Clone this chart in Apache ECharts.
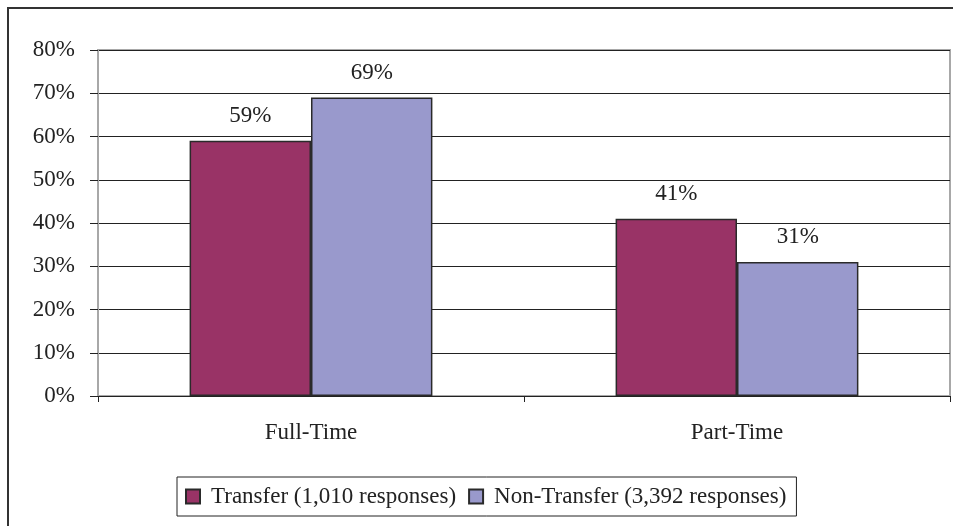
<!DOCTYPE html>
<html>
<head>
<meta charset="utf-8">
<script src="https://cdn.jsdelivr.net/npm/echarts@6/dist/echarts.min.js"></script>
<style>
  html, body { margin: 0; padding: 0; background: #fff; }
  #main { width: 953px; height: 526px; }
</style>
</head>
<body>
<div id="main"></div>
<script>
const categories = ['Full-Time', 'Part-Time']
const transferValues = [59, 41]
const nonTransferValues = [69, 31]
const seriesNames = ['Transfer (1,010 responses)', 'Non-Transfer (3,392 responses)']

const font = '"Liberation Serif", "Times New Roman", serif'
const chart = echarts.init(document.getElementById('main'))

const labelStyle = {
  show: true,
  position: 'top',
  distance: 13,
  formatter: '{c}%',
  fontFamily: font,
  fontSize: 23,
  color: '#222'
}

const option = {
  animation: false,
  backgroundColor: '#fff',
  graphic: [{
    type: 'rect',
    shape: { x: 8, y: 8, width: 980, height: 560 },
    style: { fill: 'none', stroke: '#333', lineWidth: 2 },
    silent: true
  }],
  grid: {
    left: 98,
    top: 50,
    right: 3,
    bottom: 130,
    show: true,
    borderColor: '#a8a8a8',
    borderWidth: 2
  },
  legend: {
    left: 177,
    top: 477,
    orient: 'horizontal',
    padding: [8, 10, 8, 8],
    itemWidth: 14,
    itemHeight: 14,
    itemGap: 12,
    icon: 'rect',
    borderColor: '#222',
    borderWidth: 1,
    textStyle: { fontFamily: font, fontSize: 23, color: '#222', padding: [0, 0, 0, 6] },
    data: seriesNames
  },
  xAxis: {
    type: 'category',
    data: categories,
    axisLine: { lineStyle: { color: '#222', width: 1 } },
    axisTick: { show: true, length: 6, lineStyle: { color: '#222' } },
    axisLabel: { margin: 25, fontFamily: font, fontSize: 23, color: '#222' }
  },
  yAxis: {
    type: 'value',
    min: 0,
    max: 80,
    interval: 10,
    axisLine: { show: true, lineStyle: { color: '#a8a8a8', width: 2 } },
    axisTick: { show: true, length: 8, lineStyle: { color: '#222' } },
    axisLabel: { margin: 23, formatter: '{value}%', fontFamily: font, fontSize: 23, color: '#222' },
    splitLine: { show: true, lineStyle: { color: '#222', width: 1 } }
  },
  series: [
    {
      name: seriesNames[0],
      type: 'bar',
      data: transferValues,
      barGap: '0%',
      barCategoryGap: '43%',
      itemStyle: { color: '#993366', borderColor: '#2a2a2a', borderWidth: 1.5 },
      label: labelStyle
    },
    {
      name: seriesNames[1],
      type: 'bar',
      data: nonTransferValues,
      barGap: '0%',
      barCategoryGap: '43%',
      itemStyle: { color: '#9999cc', borderColor: '#2a2a2a', borderWidth: 1.5 },
      label: labelStyle
    }
  ]
}
chart.setOption(option)
</script>
</body>
</html>
